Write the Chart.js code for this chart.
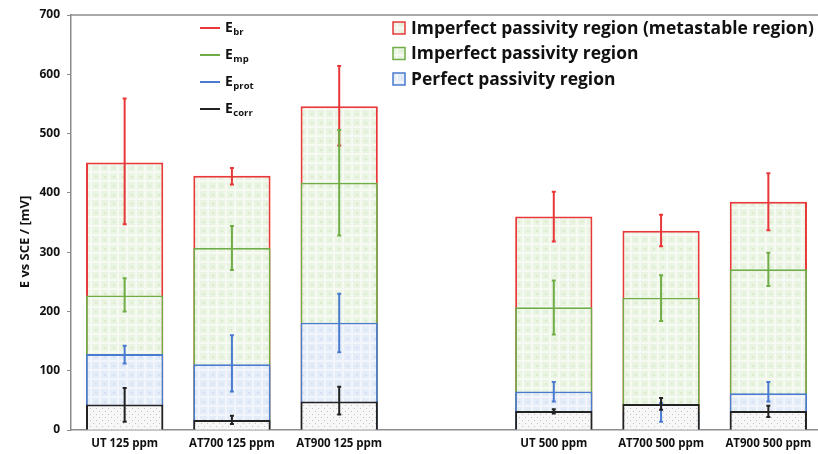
<!DOCTYPE html>
<html>
<head>
<meta charset="utf-8">
<script src="https://cdn.jsdelivr.net/npm/chart.js@4"></script>
<style>
  html,body{margin:0;padding:0;background:#fff;overflow:hidden}
  #wrap{width:823px;height:454px}
</style>
</head>
<body>
<div id="wrap"><canvas id="chart" width="823" height="454"></canvas></div>
<script>
const categories = ["UT 125 ppm","AT700 125 ppm","AT900 125 ppm","","UT 500 ppm","AT700 500 ppm","AT900 500 ppm"]

const ebr      = [451, 429, 546, null, 360, 336, 385]
const ebrLow   = [347, 414, 480, null, 318, 310, 337]
const ebrHigh  = [559, 442, 614, null, 402, 363, 433]

const emp      = [227, 307, 417, null, 207, 223, 271]
const empLow   = [200, 270, 328, null, 161, 184, 243]
const empHigh  = [256, 344, 506, null, 252, 261, 299]

const eprot     = [128, 111, 181, null, 65, 30, 62]
const eprotLow  = [112, 65, 131, null, 48, 14, 48]
const eprotHigh = [142, 160, 230, null, 81, 45, 81]

const ecorr     = [43, 17, 48, null, 32, 44, 32]
const ecorrLow  = [14, 10, 26, null, 28, 34, 22]
const ecorrHigh = [71, 24, 73, null, 35, 54, 41]

const yTicks = [0,100,200,300,400,500,600,700]

const RED = "#e8383a", GREEN = "#70ad47", BLUE = "#4a7bd0", BLACK = "#222"
const FONT = "'Open Sans', Lato, sans-serif"

function makePattern(kind){
  const c = document.createElement("canvas")
  const ctx = c.getContext("2d")
  if (kind === "dots"){
    c.width = 6; c.height = 6
    ctx.fillStyle = "#f7f7f7"; ctx.fillRect(0,0,6,6)
    ctx.fillStyle = "#c2c2c2"
    ctx.fillRect(0,0,1,1); ctx.fillRect(3,3,1,1)
  } else {
    c.width = 9; c.height = 9
    ctx.fillStyle = kind === "green" ? "#eaf4e2" : "#e4ecf8"
    ctx.fillRect(0,0,9,9)
    ctx.fillStyle = kind === "green" ? "#f6faf2" : "#f2f5fb"
    ctx.fillRect(0,0,9,2); ctx.fillRect(0,0,2,9)
    ctx.fillStyle = kind === "green" ? "#dcedcf" : "#d6e1f3"
    ctx.fillRect(5,5,2,2)
  }
  return document.getElementById("chart").getContext("2d").createPattern(c,"repeat")
}

const greenFill = makePattern("green")
const blueFill = makePattern("blue")
const dotFill = makePattern("dots")

const errorSets = [
  { low: ebrLow, high: ebrHigh, color: RED },
  { low: empLow, high: empHigh, color: GREEN },
  { low: eprotLow, high: eprotHigh, color: BLUE },
  { low: ecorrLow, high: ecorrHigh, color: BLACK }
]

const extras = {
  id: "extras",
  afterDatasetsDraw(chart){
    const ctx = chart.ctx
    const x = chart.scales.x, y = chart.scales.y
    // error bars
    errorSets.forEach(s=>{
      ctx.save()
      ctx.strokeStyle = s.color
      ctx.lineWidth = 2
      for (let i=0;i<categories.length;i++){
        if (s.low[i] == null) continue
        const px = x.getPixelForValue(i)
        const y1 = y.getPixelForValue(s.low[i])
        const y2 = y.getPixelForValue(s.high[i])
        ctx.beginPath()
        ctx.moveTo(px,y1); ctx.lineTo(px,y2)
        ctx.moveTo(px-2,y1); ctx.lineTo(px+2,y1)
        ctx.moveTo(px-2,y2); ctx.lineTo(px+2,y2)
        ctx.stroke()
      }
      ctx.restore()
    })
  },
  afterDraw(chart){
    const ctx = chart.ctx
    const a = chart.chartArea
    ctx.save()
    // top frame line
    ctx.strokeStyle = "#8c8c8c"
    ctx.lineWidth = 1.5
    ctx.beginPath(); ctx.moveTo(a.left,a.top); ctx.lineTo(a.right,a.top); ctx.stroke()

    // y title
    ctx.save()
    ctx.translate(25,242)
    ctx.rotate(-Math.PI/2)
    ctx.fillStyle = "#111"
    ctx.font = "bold 13px " + FONT
    ctx.textAlign = "center"; ctx.textBaseline = "middle"
    ctx.fillText("E vs SCE / [mV]",0,0)
    ctx.restore()

    // left legend
    const left = [["br",RED],["mp",GREEN],["prot",BLUE],["corr",BLACK]]
    left.forEach(([sub,col],i)=>{
      const yy = 28 + i*27
      ctx.strokeStyle = col; ctx.lineWidth = 2
      ctx.beginPath(); ctx.moveTo(200,yy); ctx.lineTo(220,yy); ctx.stroke()
      ctx.fillStyle = "#111"
      ctx.textBaseline = "middle"; ctx.textAlign = "left"
      ctx.font = "bold 14px " + FONT
      ctx.fillText("E",225,yy)
      const w = ctx.measureText("E").width
      ctx.font = "bold 9.5px " + FONT
      ctx.fillText(sub,225+w+0.5,yy+4)
    })

    // right legend, font sized so the longest entry spans the same width as the original
    const right = [
      ["Imperfect passivity region (metastable region)",RED,greenFill],
      ["Imperfect passivity region",GREEN,greenFill],
      ["Perfect passivity region",BLUE,blueFill]
    ]
    ctx.font = "bold 16px " + FONT
    const size = 16 * 403 / ctx.measureText(right[0][0]).width
    right.forEach(([txt,col,fill],i)=>{
      const yy = 28 + i*25.5
      ctx.fillStyle = fill
      ctx.fillRect(393,yy-6,12,12)
      ctx.strokeStyle = col; ctx.lineWidth = 1.5
      ctx.strokeRect(393,yy-6,12,12)
      ctx.fillStyle = "#111"
      ctx.font = "bold " + size.toFixed(2) + "px " + FONT
      ctx.textAlign = "left"; ctx.textBaseline = "middle"
      ctx.fillText(txt,411,yy+1)
    })
    ctx.restore()
  }
}

new Chart(document.getElementById("chart"),{
  type:"bar",
  data:{
    labels:categories,
    datasets:[
      { label:"Ecorr", data:ecorr, backgroundColor:dotFill, borderColor:BLACK, borderWidth:2, order:1 },
      { label:"Eprot", data:eprot, backgroundColor:blueFill, borderColor:BLUE, borderWidth:1.8, order:2 },
      { label:"Emp", data:emp, backgroundColor:greenFill, borderColor:GREEN, borderWidth:1.8, order:3 },
      { label:"Ebr", data:ebr, backgroundColor:greenFill, borderColor:RED, borderWidth:2, order:4 }
    ]
  },
  options:{
    responsive:false,
    animation:false,
    devicePixelRatio:1,
    barPercentage:0.72,
    categoryPercentage:1,
    layout:{ padding:{ top:15, right:1, left:0, bottom:0 } },
    plugins:{ legend:{ display:false }, tooltip:{ enabled:false } },
    scales:{
      x:{
        stacked:true,
        grid:{ display:false, drawTicks:false },
        border:{ display:true, color:"#8c8c8c", width:1.5 },
        ticks:{ color:"#111", padding:7, font:{ family:FONT, size:11.5, weight:"bold" }, maxRotation:0, autoSkip:false },
        afterFit(s){ s.height = 24 }
      },
      y:{
        stacked:false,
        min:0, max:700,
        afterBuildTicks(s){ s.ticks = yTicks.map(v=>({ value:v })) },
        grid:{ drawOnChartArea:false, tickLength:4, color:"#8c8c8c" },
        border:{ display:true, color:"#8c8c8c", width:1.5 },
        ticks:{ color:"#111", padding:7, font:{ family:FONT, size:12, weight:"bold" } },
        afterFit(s){ s.width = 71 }
      }
    }
  },
  plugins:[extras]
})
</script>
</body>
</html>
